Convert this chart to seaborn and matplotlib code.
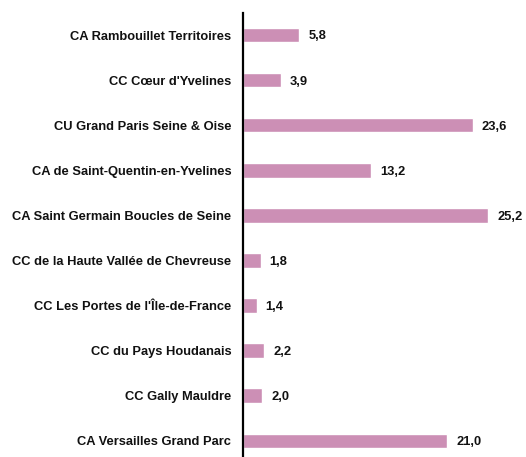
import matplotlib
matplotlib.use("Agg")
import matplotlib.pyplot as plt
import seaborn as sns
import pandas as pd

categories = [
    "CA Rambouillet Territoires",
    "CC Cœur d'Yvelines",
    "CU Grand Paris Seine & Oise",
    "CA de Saint-Quentin-en-Yvelines",
    "CA Saint Germain Boucles de Seine",
    "CC de la Haute Vallée de Chevreuse",
    "CC Les Portes de l'Île-de-France",
    "CC du Pays Houdanais",
    "CC Gally Mauldre",
    "CA Versailles Grand Parc",
]
values = [5.8, 3.9, 23.6, 13.2, 25.2, 1.8, 1.4, 2.2, 2.0, 21.0]
value_labels = ["5,8", "3,9", "23,6", "13,2", "25,2", "1,8", "1,4", "2,2", "2,0", "21,0"]

sns.set_theme(style="white")
plt.rcParams['font.family'] = ['Liberation Sans', 'DejaVu Sans']

df = pd.DataFrame({"cat": categories, "val": values})

fig = plt.figure(figsize=(5.26, 4.57), dpi=100)
ax = fig.add_axes([243/526, 0, 1 - 243/526, 1 - 13/457])
sns.barplot(data=df, x="val", y="cat", orient="h", color="#cc8fb5",
            saturation=1, width=0.32, ax=ax)
ax.set_xlim(0, 29.1)
ax.set_ylim(9.36, -0.49)
ax.set_xlabel("")
ax.set_ylabel("")
ax.set_xticks([])
for s in ["top", "right", "bottom"]:
    ax.spines[s].set_visible(False)
ax.spines["left"].set_color("black")
ax.spines["left"].set_linewidth(1.6)
ax.tick_params(axis="y", length=0, pad=8.5)
for lab in ax.get_yticklabels():
    lab.set_fontweight("bold")
    lab.set_fontsize(9.3)
    lab.set_color("#111111")
for i, (v, t) in enumerate(zip(values, value_labels)):
    ax.annotate(t, (v, i), xytext=(6.5, -1), textcoords="offset points",
                va="center", ha="left", fontsize=9.3, fontweight="bold", color="#111111")

fig.savefig("out.png", dpi=100)
